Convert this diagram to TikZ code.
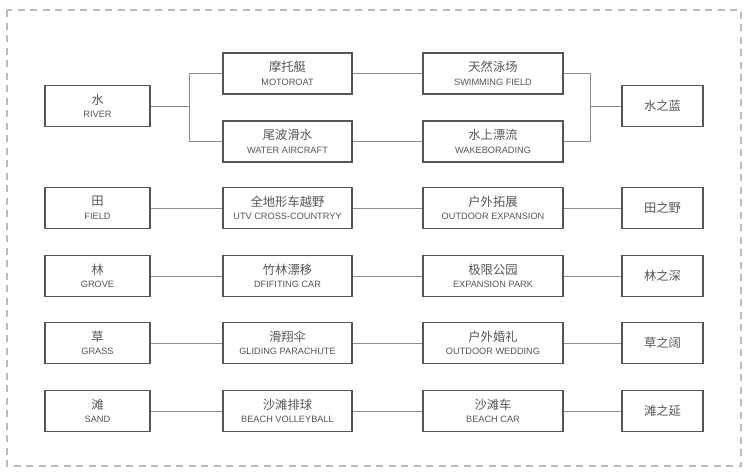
\documentclass[tikz,border=0pt]{standalone}
\usepackage{fontspec}
\setmainfont{Liberation Sans}
\newfontfamily\cjk{Noto Sans CJK SC}
\usetikzlibrary{positioning}
\definecolor{boxline}{HTML}{555555}
\definecolor{txt}{HTML}{555555}
\definecolor{conline}{HTML}{8C8C8C}
\definecolor{frame}{HTML}{BBBBBB}
\newcommand{\cn}[1]{{\cjk\fontsize{12.3}{13}\selectfont #1}}
\newcommand{\en}[1]{{\fontsize{9.2}{10}\selectfont #1}}
\newcommand{\two}[2]{\cn{#1}\\[1.5pt]\en{#2}}
\begin{document}
\begin{tikzpicture}[x=1pt,y=-1pt,
  box/.style={draw=boxline, line width=1.4pt, rectangle, inner sep=0pt, minimum height=41pt, text=txt, align=center},
  c1/.style={box, minimum width=105pt},
  c2/.style={box, minimum width=129pt},
  c3/.style={box, minimum width=140pt},
  c4/.style={box, minimum width=81pt},
  conn/.style={draw=conline, line width=0.9pt}]
\useasboundingbox (0,0) rectangle (746,472);
\draw[frame, line width=1.3pt, dash pattern=on 7pt off 5.5pt] (7,10) rectangle (741,466);
% row 1
\node[c1] (river) at (97.5,106) {\two{水}{RIVER}};
\node[c2] (moto) at (287.5,73.5) {\two{摩托艇}{MOTOROAT}};
\node[c2] (wair) at (287.5,141.5) {\two{尾波滑水}{WATER AIRCRAFT}};
\node[c3] (swim) at (493,73.5) {\two{天然泳场}{SWIMMING FIELD}};
\node[c3] (wake) at (493,141.5) {\two{水上漂流}{WAKEBORADING}};
\node[c4] (lan) at (662.5,106) {\cn{水之蓝}};
\coordinate (bl) at (189,106);
\coordinate (br) at (590,106);
\draw[conn] (river.east) -- (bl);
\draw[conn] (bl) |- (moto.west);
\draw[conn] (bl) |- (wair.west);
\draw[conn] (moto.east) -- (swim.west);
\draw[conn] (wair.east) -- (wake.west);
\draw[conn] (swim.east) -| (br);
\draw[conn] (wake.east) -| (br);
\draw[conn] (br) -- (lan.west);
% row 2
\node[c1] (tian) at (97.5,208) {\two{田}{FIELD}};
\node[c2] (utv) at (287.5,208) {\two{全地形车越野}{UTV CROSS-COUNTRYY}};
\node[c3] (outx) at (493,208) {\two{户外拓展}{OUTDOOR EXPANSION}};
\node[c4] (ye) at (662.5,208) {\cn{田之野}};
\draw[conn] (tian) -- (utv) -- (outx) -- (ye);
% row 3
\node[c1] (lin) at (97.5,276) {\two{林}{GROVE}};
\node[c2] (drift) at (287.5,276) {\two{竹林漂移}{DFIFITING CAR}};
\node[c3] (park) at (493,276) {\two{极限公园}{EXPANSION PARK}};
\node[c4] (shen) at (662.5,276) {\cn{林之深}};
\draw[conn] (lin) -- (drift) -- (park) -- (shen);
% row 4
\node[c1] (cao) at (97.5,343) {\two{草}{GRASS}};
\node[c2] (glide) at (287.5,343) {\two{滑翔伞}{GLIDING PARACHUTE}};
\node[c3] (wed) at (493,343) {\two{户外婚礼}{OUTDOOR WEDDING}};
\node[c4] (kuo) at (662.5,343) {\cn{草之阔}};
\draw[conn] (cao) -- (glide) -- (wed) -- (kuo);
% row 5
\node[c1] (tan) at (97.5,411) {\two{滩}{SAND}};
\node[c2] (volley) at (287.5,411) {\two{沙滩排球}{BEACH VOLLEYBALL}};
\node[c3] (bcar) at (493,411) {\two{沙滩车}{BEACH CAR}};
\node[c4] (yan) at (662.5,411) {\cn{滩之延}};
\draw[conn] (tan) -- (volley) -- (bcar) -- (yan);
\end{tikzpicture}
\end{document}
